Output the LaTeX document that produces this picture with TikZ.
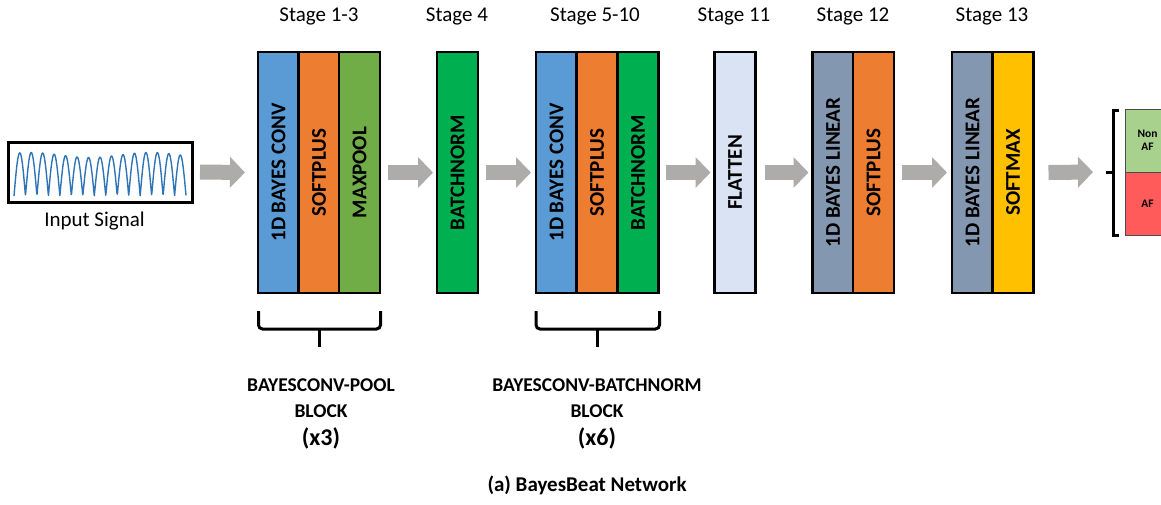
\documentclass[tikz,border=0pt]{standalone}
\usepackage{fontspec}
\setmainfont{Carlito}
\usepackage{graphicx}
\usetikzlibrary{arrows.meta}
\definecolor{cblue}{HTML}{5B9BD5}
\definecolor{corange}{HTML}{ED7D31}
\definecolor{cgreen}{HTML}{70AD47}
\definecolor{cbngreen}{HTML}{00B050}
\definecolor{cflat}{HTML}{DAE3F3}
\definecolor{clin}{HTML}{8497B0}
\definecolor{cmax}{HTML}{FFC000}
\definecolor{cnon}{HTML}{A9D18E}
\definecolor{caf}{HTML}{FF5B5B}
\definecolor{carrow}{HTML}{AEABAB}
\definecolor{csig}{HTML}{2E75B6}
\begin{document}
\begin{tikzpicture}[x=1pt,y=-1pt,
 layer/.style={draw=black, line width=2.5pt, minimum width=41pt, minimum height=241pt, inner sep=0pt, outer sep=0pt, font=\fontsize{21}{21}\selectfont\bfseries},
 bigarrow/.style={draw=carrow, line width=15pt, -{Triangle[length=15pt,width=30pt]}},
 stagelbl/.style={font=\fontsize{21}{21}\selectfont, inner sep=0pt},
 blocklbl/.style={font=\fontsize{19.5}{26}\selectfont\bfseries, align=center, inner sep=0pt},
 countlbl/.style={font=\fontsize{24}{24}\selectfont\bfseries, inner sep=0pt},
 brace/.style={line width=3pt, rounded corners=4pt},
 outbox/.style={draw=black!70, line width=0.8pt, minimum width=45pt, minimum height=63pt, inner sep=0pt, outer sep=0pt, font=\fontsize{11.5}{13}\selectfont\bfseries, align=center},
]
\useasboundingbox (0,0) rectangle (1161,504);

% input signal
\node[draw=black, line width=3pt, minimum width=184pt, minimum height=60pt, inner sep=0pt, outer sep=0pt] (sig) at (100,172) {};
\draw[csig, line width=1.4pt, line join=round] plot[domain=14:186, samples=500] (\x, {196 - (41+2.5*sin(\x*3))*abs(sin((\x-14)*15.693))});
\node[stagelbl] (siglbl) at (94.5,221) {Input Signal};

% stage 1-3
\node[layer, fill=cblue]   (b1a) at (278.5,172.5) {\rotatebox{90}{1D BAYES CONV}};
\node[layer, fill=corange] (b1b) at (319,172.5)   {\rotatebox{90}{SOFTPLUS}};
\node[layer, fill=cgreen]  (b1c) at (359.5,172.5) {\rotatebox{90}{MAXPOOL}};
% stage 4
\node[layer, fill=cbngreen] (b2) at (457.5,172.5) {\rotatebox{90}{BATCHNORM}};
% stage 5-10
\node[layer, fill=cblue]    (b3a) at (556.5,172.5) {\rotatebox{90}{1D BAYES CONV}};
\node[layer, fill=corange]  (b3b) at (597,172.5)   {\rotatebox{90}{SOFTPLUS}};
\node[layer, fill=cbngreen] (b3c) at (638,172.5)   {\rotatebox{90}{BATCHNORM}};
% stage 11
\node[layer, fill=cflat] (b4) at (735,172.5) {\rotatebox{90}{FLATTEN}};
% stage 12
\node[layer, fill=clin]    (b5a) at (833,172.5) {\rotatebox{90}{1D BAYES LINEAR}};
\node[layer, fill=corange] (b5b) at (873.5,172.5) {\rotatebox{90}{SOFTPLUS}};
% stage 13
\node[layer, fill=clin] (b6a) at (972.5,172.5) {\rotatebox{90}{1D BAYES LINEAR}};
\node[layer, fill=cmax] (b6b) at (1013,172.5) {\rotatebox{90}{SOFTMAX}};

% stage labels
\node[stagelbl] (s1) at (319,16) {Stage 1-3};
\node[stagelbl] (s2) at (457,16) {Stage 4};
\node[stagelbl] (s3) at (595,16) {Stage 5-10};
\node[stagelbl] (s4) at (734,16) {Stage 11};
\node[stagelbl] (s5) at (853,16) {Stage 12};
\node[stagelbl] (s6) at (992,16) {Stage 13};

% output
\node[outbox, fill=cnon, anchor=north west] (onon) at (1125,109) {Non\\AF};
\node[outbox, fill=caf, anchor=north west] (oaf) at (1125,172) {AF};
\draw[line width=3pt] (1119,110) -- (1113,110) -- (1113,235) -- (1119,235);
\coordinate (outtick) at (1106,172);
\draw[line width=3pt] (1113,172) -- (outtick);

% arrows
\draw[bigarrow] ([xshift=8pt]sig.east) -- ([xshift=-13pt]b1a.west);
\draw[bigarrow] ([xshift=8pt]b1c.east) -- ([xshift=-4pt]b2.west);
\draw[bigarrow] ([xshift=8pt]b2.east) -- ([xshift=-5pt]b3a.west);
\draw[bigarrow] ([xshift=7pt]b3c.east) -- ([xshift=-4pt]b4.west);
\draw[bigarrow] ([xshift=9pt]b4.east) -- ([xshift=-4pt]b5a.west);
\draw[bigarrow] ([xshift=8pt]b5b.east) -- ([xshift=-5pt]b6a.west);
\draw[bigarrow] ([xshift=15pt]b6b.east) -- ([xshift=-13pt]outtick);

% braces
\coordinate (br1l) at (258.5,311);
\coordinate (br1r) at (380.5,311);
\coordinate (br1m) at (319.5,347);
\draw[brace] (br1l) -- (258.5,329) -- (380.5,329) -- (br1r);
\draw[line width=3pt] (319.5,327.5) -- (br1m);
\coordinate (br2l) at (536,311);
\coordinate (br2r) at (659.5,311);
\coordinate (br2m) at (597.5,347);
\draw[brace] (br2l) -- (536,329) -- (659.5,329) -- (br2r);
\draw[line width=3pt] (597.5,327.5) -- (br2m);

\node[blocklbl] (l1) at (321,398) {BAYESCONV-POOL\\BLOCK};
\node[countlbl] (c1) at (321,438) {(x3)};
\node[blocklbl] (l2) at (597,398) {BAYESCONV-BATCHNORM\\BLOCK};
\node[countlbl] (c2) at (597,438) {(x6)};

\node[font=\fontsize{21}{21}\selectfont\bfseries, inner sep=0pt] (title) at (587,485) {(a) BayesBeat Network};
\end{tikzpicture}
\end{document}
